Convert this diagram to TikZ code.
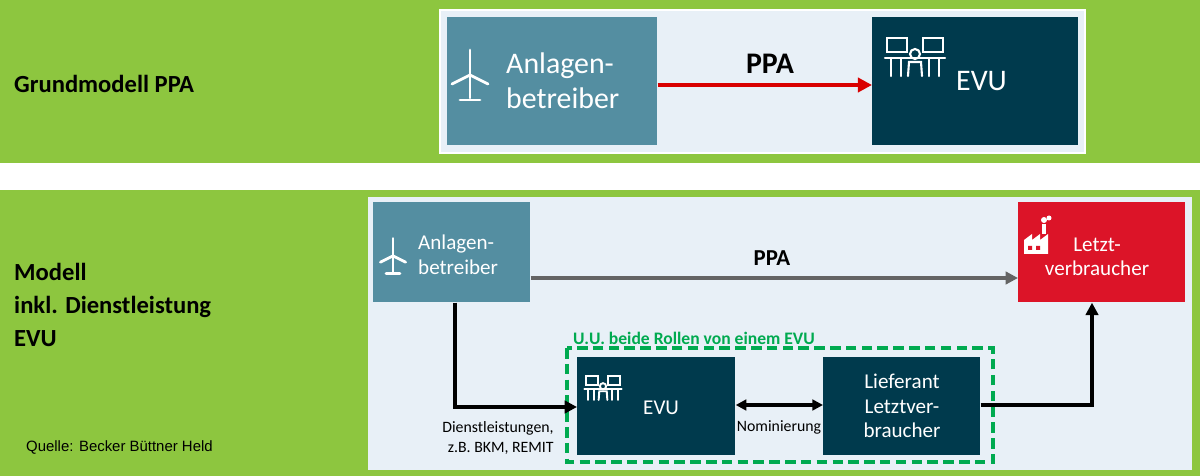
\documentclass[tikz,border=0pt]{standalone}
\usepackage{fontspec}
\setmainfont{Carlito}
\newfontfamily\arialf{Liberation Sans}
\usetikzlibrary{arrows.meta}
\definecolor{bggreen}{RGB}{141,198,63}
\definecolor{panel}{RGB}{232,240,247}
\definecolor{teal}{RGB}{84,142,161}
\definecolor{navy}{RGB}{0,58,77}
\definecolor{lvred}{RGB}{220,20,40}
\definecolor{dgreen}{RGB}{0,170,80}
\definecolor{arrgrey}{RGB}{100,100,100}
\begin{document}
\begin{tikzpicture}[x=0.02cm,y=-0.02cm,
  box/.style={draw=none,anchor=north west,inner sep=0pt},
  lbl/.style={text=white,font=\fontsize{12pt}{14pt}\selectfont,align=left,anchor=west},
  icon/.style={white,line width=1.6pt,line cap=round},
  con/.style={line width=2pt,-{Triangle[length=7pt,width=7pt]}}]
\useasboundingbox (0,0) rectangle (1200,476);
\fill[bggreen] (0,0) rectangle (1200,476);
\fill[white] (0,163) rectangle (1200,190);
% top panel
\draw[white,line width=1.5pt,fill=panel] (440,10) rectangle (1085,153);
\node[box,fill=teal,minimum width=210*0.02cm,minimum height=128*0.02cm] (a1) at (447,17) {};
\node[box,fill=navy,minimum width=206*0.02cm,minimum height=128*0.02cm] (e1) at (872,17) {};
\node[lbl,font=\fontsize{17pt}{20pt}\selectfont] at (500,81) {Anlagen-\\betreiber};
\node[lbl,font=\fontsize{17pt}{20pt}\selectfont] at (950,81) {EVU};
\draw[line width=2.5pt,red!85!black,-{Triangle[length=8pt,width=8pt]}] (a1.east|-0,85) -- (e1.west|-0,85);
\node[font=\bfseries\fontsize{17pt}{20pt}\selectfont] at (770,64) {PPA};
\node[anchor=west,font=\bfseries\fontsize{14pt}{18pt}\selectfont] at (8,84) {Grundmodell PPA};
% turbine icon top
\begin{scope}[shift={(470,78)}]
\draw[icon] (0,-3) -- (0,20); \draw[icon] (-10,22) -- (10,22);
\draw[icon] (0,-3) -- (0,-28); \draw[icon] (0,-3) -- (-18,6); \draw[icon] (0,-3) -- (18,6);
\end{scope}
% EVU icon top
\begin{scope}[shift={(915,60)}]
\draw[icon,line width=1.2pt] (-28,-22) rectangle (-8,-8); \draw[icon,line width=1.2pt] (8,-22) rectangle (28,-8);
\draw[icon,line width=1.2pt] (-30,-2) -- (30,-2); \draw[icon,line width=1.2pt] (-24,-2)--(-24,16) (24,-2)--(24,16) (-14,-2)--(-14,16) (14,-2)--(14,16);
\draw[icon,line width=1.2pt] (0,-6) circle (5); \draw[icon,line width=1.2pt] (-7,16) -- (-6,2) -- (6,2) -- (7,16);
\end{scope}
% bottom panel
\fill[panel] (368,197) rectangle (1192,470);
\node[anchor=west,font=\bfseries\fontsize{14pt}{19pt}\selectfont,align=left] at (8,305) {Modell\\inkl. Dienstleistung\\EVU};
\node[anchor=west,font=\arialf\fontsize{8.5pt}{10pt}\selectfont] at (20,447) {Quelle: Becker Büttner Held};
\node[box,fill=teal,minimum width=157*0.02cm,minimum height=100*0.02cm] (a2) at (373,202) {};
\node[box,fill=lvred,minimum width=167*0.02cm,minimum height=100*0.02cm] (l2) at (1018,202) {};
\node[lbl] at (412,255) {Anlagen-\\betreiber};
\node[lbl,align=center,anchor=center] at (1097,257) {Letzt-\\verbraucher};
\begin{scope}[shift={(393,258)},scale=0.7]
\draw[icon] (0,-3) -- (0,20); \draw[icon] (-10,22) -- (10,22);
\draw[icon] (0,-3) -- (0,-28); \draw[icon] (0,-3) -- (-18,6); \draw[icon] (0,-3) -- (18,6);
\end{scope}
\begin{scope}[shift={(1036,240)}]
\fill[white] (-12,14) -- (-12,0) -- (-4,-6) -- (-4,0) -- (4,-6) -- (4,0) -- (12,-6) -- (12,14) -- cycle;
\fill[white] (6,-6) rectangle (10,-16); \fill[white] (8,-20) circle (3); \fill[white] (13,-22) circle (2.5);
\fill[lvred] (-8,6) rectangle (-4,10) (0,6) rectangle (4,10);
\end{scope}
\draw[con,draw=arrgrey,-{Triangle[length=7pt,width=7pt]},arrgrey] (a2.east|-0,278) -- (l2.west|-0,278);
\node[font=\bfseries\fontsize{13pt}{15pt}\selectfont] at (772,258) {PPA};
% dashed group
\draw[dgreen,dashed,line width=2pt,dash pattern=on 6pt off 3pt] (567,348) rectangle (993,462);
\node[dgreen,font=\bfseries\fontsize{10pt}{12pt}\selectfont,anchor=west] at (567,338) {U.U. beide Rollen von einem EVU};
\node[box,fill=navy,minimum width=158*0.02cm,minimum height=98*0.02cm] (e2) at (577,357) {};
\node[box,fill=navy,minimum width=157*0.02cm,minimum height=98*0.02cm] (lf) at (823,357) {};
\node[lbl] at (637,408) {EVU};
\node[lbl,align=center,anchor=center] at (902,406) {Lieferant\\Letztver-\\braucher};
\begin{scope}[shift={(603,390)},scale=0.62]
\draw[icon,line width=1.1pt] (-28,-22) rectangle (-8,-8); \draw[icon,line width=1.1pt] (8,-22) rectangle (28,-8);
\draw[icon,line width=1.1pt] (-30,-2) -- (30,-2); \draw[icon,line width=1.1pt] (-24,-2)--(-24,16) (24,-2)--(24,16) (-14,-2)--(-14,16) (14,-2)--(14,16);
\draw[icon,line width=1.1pt] (0,-6) circle (5); \draw[icon,line width=1.1pt] (-7,16) -- (-6,2) -- (6,2) -- (7,16);
\end{scope}
\coordinate (c1) at (455,407);
\coordinate (c2) at (1092,405);
\draw[con] (a2.south-|c1) -- (c1) -- (e2.west|-c1);
\draw[line width=2pt,{Triangle[length=6pt,width=6pt]}-{Triangle[length=6pt,width=6pt]}] (e2.east|-0,405) -- (lf.west|-0,405);
\draw[con] (lf.east|-c2) -- (c2) -- (c2|-l2.south);
\node[font=\fontsize{9pt}{11pt}\selectfont,align=right] at (498,438) {Dienstleistungen,\\z.B. BKM, REMIT};
\node[font=\fontsize{9pt}{11pt}\selectfont] at (779,427) {Nominierung};
\end{tikzpicture}
\end{document}
